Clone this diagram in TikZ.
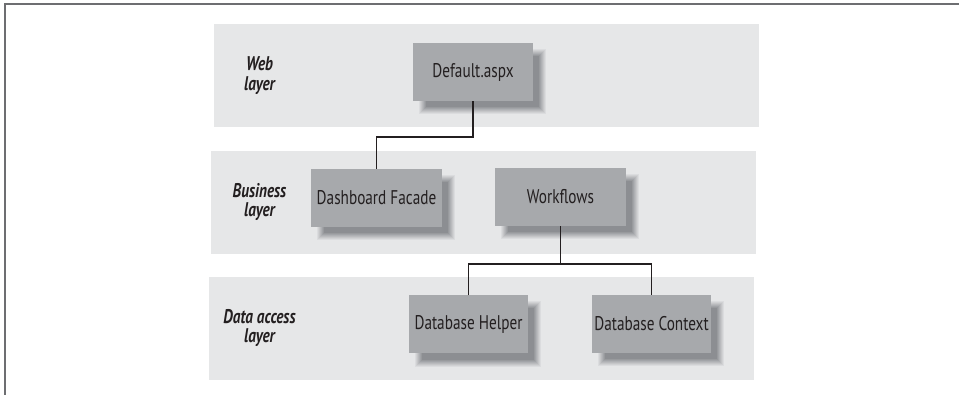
\documentclass[tikz,border=0pt]{standalone}
\usepackage{fontspec}
\newfontfamily\diafont{PT Sans}[FakeStretch=0.77]
\definecolor{bandcol}{HTML}{E6E7E8}
\definecolor{boxcol}{HTML}{A7A9AC}
\definecolor{shadowcol}{HTML}{8C8E92}
\definecolor{inkcol}{HTML}{231F20}
\definecolor{framecol}{HTML}{6D6E71}
\pgfdeclarelayer{bands}
\pgfdeclarelayer{shadows}
\pgfsetlayers{bands,shadows,main}
\newcommand\dropshadow[1]{%
  \begin{pgfonlayer}{shadows}
  \foreach \e/\p in {3.5/12,2.5/25,1.5/37,0.5/50,-0.5/62,-1.5/75,-2.5/87,-3.5/100}{%
    \fill[shadowcol!\p!bandcol] ([shift={(9.5-\e,9.5+\e)}]#1.south west) rectangle ([shift={(9.5+\e,9.5-\e)}]#1.north east);}
  \end{pgfonlayer}}
\begin{document}
\begin{tikzpicture}[x=1pt,y=-1pt,
  band/.style={fill=bandcol,draw=none,inner sep=0pt,minimum height=103pt},
  compbox/.style={fill=boxcol,draw=none,inner sep=0pt,minimum height=58pt,
    font=\diafont\fontsize{19.8}{21}\selectfont,text=inkcol},
  layerlabel/.style={align=center,inner sep=0pt,
    font=\diafont\bfseries\itshape\fontsize{19.8}{19.5}\selectfont,text=inkcol},
  wire/.style={draw=inkcol,line width=1.3pt},
  frame/.style={draw=framecol,line width=2pt}]
\useasboundingbox (0,0) rectangle (959,395);
\draw[frame] (4.5,395) coordinate (fbl) -- (4.5,4.5) coordinate (ftl) -- (959,4.5) coordinate (ftr);

\begin{pgfonlayer}{bands}
\node[band,minimum width=545pt] (webband) at (486.5,75.5) {};
\node[band,minimum width=545pt] (busband) at (483.5,202.5) {};
\node[band,minimum width=545pt] (databand) at (481.5,328.5) {};
\end{pgfonlayer}

\node[layerlabel] (weblbl) at (259.5,75.5) {Web\\layer};
\node[layerlabel] (buslbl) at (259.5,202) {Business\\layer};
\node[layerlabel] (datalbl) at (259.5,328) {Data access\\layer};

\node[compbox,minimum width=120pt] (default) at (473,72) {Default.aspx};
\node[compbox,minimum width=131pt] (facade) at (376.5,198) {Dashboard Facade};
\node[compbox,minimum width=131pt] (workflows) at (560.5,197) {Workflows};
\node[compbox,minimum width=119pt] (helper) at (468.5,324.5) {Database Helper};
\node[compbox,minimum width=119pt] (context) at (651.5,324) {Database Context};

\dropshadow{default}
\dropshadow{facade}
\dropshadow{workflows}
\dropshadow{helper}
\dropshadow{context}

\coordinate (bend) at (default.south |- 0,137);
\coordinate (split) at (workflows.south |- 0,264);
\draw[wire] (default.south) -- (bend) -| (facade.north);
\draw[wire] (workflows.south) -- (split);
\draw[wire] (helper.north) |- (split) -| (context.north);
\end{tikzpicture}
\end{document}
